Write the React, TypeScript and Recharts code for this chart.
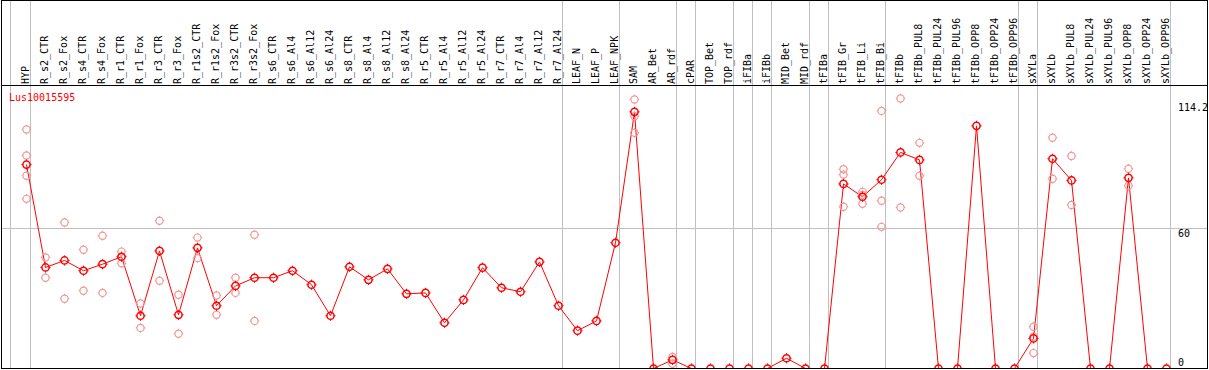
import React from 'react';
import { ComposedChart, Line, XAxis, YAxis, ReferenceLine } from 'recharts';

const categories = [
  'HYP', 'R_s2_CTR', 'R_s2_Fox', 'R_s4_CTR', 'R_s4_Fox', 'R_r1_CTR', 'R_r1_Fox', 'R_r3_CTR', 'R_r3_Fox',
  'R_r1s2_CTR', 'R_r1s2_Fox', 'R_r3s2_CTR', 'R_r3s2_Fox', 'R_s6_CTR', 'R_s6_Al4', 'R_s6_Al12', 'R_s6_Al24',
  'R_s8_CTR', 'R_s8_Al4', 'R_s8_Al12', 'R_s8_Al24', 'R_r5_CTR', 'R_r5_Al4', 'R_r5_Al12', 'R_r5_Al24',
  'R_r7_CTR', 'R_r7_Al4', 'R_r7_Al12', 'R_r7_Al24', 'LEAF_N', 'LEAF_P', 'LEAF_NPK', 'SAM', 'AR_Bet', 'AR_rdf',
  'cPAR', 'TOP_Bet', 'TOP_rdf', 'iFIBa', 'iFIBb', 'MID_Bet', 'MID_rdf', 'tFIBa', 'tFIB_Gr', 'tFIB_Li', 'tFIB_Bi',
  'tFIBb', 'tFIBb_PUL8', 'tFIBb_PUL24', 'tFIBb_PUL96', 'tFIBb_OPP8', 'tFIBb_OPP24', 'tFIBb_OPP96', 'sXYLa',
  'sXYLb', 'sXYLb_PUL8', 'sXYLb_PUL24', 'sXYLb_PUL96', 'sXYLb_OPP8', 'sXYLb_OPP24', 'sXYLb_OPP96',
];

const means = [
  87.4, 43.3, 46.3, 41.9, 44.7, 47.9, 22.6, 50.4, 23.0,
  51.7, 26.9, 35.4, 38.9, 38.9, 41.9, 35.9, 22.6,
  43.6, 38.0, 42.7, 32.0, 32.4, 19.6, 29.4, 43.2,
  34.6, 32.9, 45.7, 26.9, 16.2, 20.4, 53.9, 110.0, 0, 3.7,
  0, 0, 0, 0, 0, 4.4, 0, 0, 79.1, 73.6, 80.9,
  92.6, 89.4, 0, 0, 104.0, 0, 0, 12.9,
  89.9, 80.6, 0, 0, 81.7, 0, 0,
];

const replicates: number[][] = [
  [102.4, 91.3, 82.6, 72.7], [47.6, 38.9], [62.6, 29.9], [50.9, 33.3], [56.9, 32.4], [50.1, 45.1], [27.9, 17.4], [63.3, 37.6], [31.6, 14.9],
  [56.1, 47.3], [31.3, 23.0], [38.9, 32.4], [57.3, 20.4], [], [], [], [],
  [], [], [], [], [], [], [], [],
  [], [], [], [], [], [], [], [115.3, 108.1, 101.0], [], [4.9, 2.0],
  [], [], [], [], [], [], [], [], [85.4, 83.1, 69.3], [75.7, 74.4, 70.6], [110.4, 71.9, 60.7],
  [115.7, 69.0], [96.7, 82.6], [], [], [], [], [], [17.9, 13.6, 6.6],
  [98.9, 81.3], [91.1, 70.1], [], [], [85.6, 78.3], [], [],
];

const yTicks = [0, 60, 114.2];
const gridValues = [60];
// index of the last category of each group (the frame also has a line before the first category)
const groupEnds = [0, 28, 31, 34, 35, 37, 38, 39, 41, 42, 45, 52, 53, 60];
const geneLabel = 'Lus10015595';

const SHIFT = 2;

const data = categories.map((name, i) => {
  const row: Record<string, any> = { pos: i + SHIFT, name, mean: means[i] };
  (replicates[i] || []).forEach((v, j) => {
    row['r' + j] = v;
  });
  return row;
});

const W = 1209;
const H = 370;
const PX_PER_CAT = 19;
const FIRST_X = 26.5;
const PLOT_LEFT = 1;
const PLOT_RIGHT = 1207;
const PLOT_BOTTOM = 368.5;
const PX_PER_UNIT = 140 / 60;
const X_MIN = SHIFT + (PLOT_LEFT - FIRST_X) / PX_PER_CAT;
const X_MAX = X_MIN + (PLOT_RIGHT - PLOT_LEFT) / PX_PER_CAT;
const Y_MAX = PLOT_BOTTOM / PX_PER_UNIT;
const SEP_PX = 4;
const SEP_OFFSET = SEP_PX / PX_PER_CAT;
const LEAD_SEP_X = 10.5;

const FONT = "'DejaVu Sans Mono', monospace";
const RED = '#ff0000';
const PINK = '#f09898';
const GRAY = '#c0c0c0';

const headerLabel = (label: string) => (props: any) => {
  const vb = props.viewBox || {};
  const x = vb.x ?? 0;
  const ax = x + 2;
  const ay = 84;
  return (
    <text
      x={ax}
      y={ay}
      transform={`rotate(-90, ${ax}, ${ay})`}
      fontFamily={FONT}
      fontSize={10}
      fill="#000"
      textAnchor="start"
    >
      {label}
    </text>
  );
};

const valueLabel = (v: number) => (props: any) => {
  const vb = props.viewBox || {};
  const y = vb.y ?? 0;
  return (
    <text x={1178} y={v === 0 ? y - 2.5 : y + 8.5} fontFamily={FONT} fontSize={10} fill="#000" textAnchor="start">
      {String(v)}
    </text>
  );
};

const MeanDot = (props: any) => {
  const { cx, cy, index, value } = props;
  if (cx == null || cy == null || value == null || Number.isNaN(cy)) return <g key={`m-${index}`} />;
  const r = 3.6;
  return (
    <g key={`m-${index}`}>
      <circle cx={cx} cy={cy} r={r} fill="none" stroke={RED} strokeWidth={1.5} />
      <line x1={cx} y1={cy - r - 1.5} x2={cx} y2={cy - r} stroke={RED} strokeWidth={1} />
      <line x1={cx} y1={cy + r} x2={cx} y2={cy + r + 1.5} stroke={RED} strokeWidth={1} />
      <line x1={cx - r - 1.5} y1={cy} x2={cx - r} y2={cy} stroke={RED} strokeWidth={1} />
      <line x1={cx + r} y1={cy} x2={cx + r + 1.5} y2={cy} stroke={RED} strokeWidth={1} />
    </g>
  );
};

const makeRepDot = (key: string) => (props: any) => {
  const { cx, cy, index, payload } = props;
  if (cx == null || cy == null || payload == null || payload[key] == null || Number.isNaN(cy)) {
    return <g key={`${key}-${index}`} />;
  }
  const r = 3.6;
  return (
    <g key={`${key}-${index}`}>
      <circle cx={cx} cy={cy} r={r} fill="none" stroke={PINK} strokeWidth={1.2} />
      <line x1={cx} y1={cy - r - 1.2} x2={cx} y2={cy - r} stroke={PINK} strokeWidth={1} />
      <line x1={cx} y1={cy + r} x2={cx} y2={cy + r + 1.2} stroke={PINK} strokeWidth={1} />
      <line x1={cx - r - 1.2} y1={cy} x2={cx - r} y2={cy} stroke={PINK} strokeWidth={1} />
      <line x1={cx + r} y1={cy} x2={cx + r + 1.2} y2={cy} stroke={PINK} strokeWidth={1} />
    </g>
  );
};

const repKeys = ['r0', 'r1', 'r2', 'r3'];

export default function App() {
  return (
    <div style={{ position: 'absolute', left: 0, top: 0, width: W, height: H, background: '#fff', overflow: 'hidden' }}>
      <ComposedChart
        width={W}
        height={H}
        data={data}
        margin={{ top: 0, right: W - PLOT_RIGHT, bottom: H - PLOT_BOTTOM, left: PLOT_LEFT }}
      >
        <XAxis dataKey="pos" type="number" domain={[X_MIN, X_MAX]} allowDataOverflow hide />
        <YAxis type="number" domain={[0, Y_MAX]} allowDataOverflow hide />
        {gridValues.map((v) => (
          <ReferenceLine key={`h-${v}`} y={v} stroke={GRAY} strokeWidth={1} ifOverflow="visible" />
        ))}
        {groupEnds.map((g) => (
          <ReferenceLine
            key={`sep-${g}`}
            x={g + SHIFT + SEP_OFFSET}
            stroke={GRAY}
            strokeWidth={1}
            ifOverflow="visible"
          />
        ))}
        {categories.map((c, i) => (
          <ReferenceLine key={`c-${i}`} x={i + SHIFT} stroke="none" ifOverflow="visible" label={headerLabel(c)} />
        ))}
        {yTicks.map((v) => (
          <ReferenceLine key={`t-${v}`} y={v} stroke="none" ifOverflow="visible" label={valueLabel(v)} />
        ))}
        {repKeys.map((k) => (
          <Line
            key={k}
            dataKey={k}
            stroke="none"
            isAnimationActive={false}
            dot={makeRepDot(k)}
            activeDot={false}
            connectNulls={false}
            legendType="none"
          />
        ))}
        <Line
          dataKey="mean"
          type="linear"
          stroke={RED}
          strokeWidth={1}
          isAnimationActive={false}
          dot={MeanDot}
          activeDot={false}
        />
      </ComposedChart>
      <svg width={W} height={H} style={{ position: 'absolute', left: 0, top: 0, pointerEvents: 'none' }}>
        <line x1={LEAD_SEP_X} y1={0} x2={LEAD_SEP_X} y2={PLOT_BOTTOM} stroke={GRAY} strokeWidth={1} />
        <rect x={1.5} y={0.5} width={1206} height={368} fill="none" stroke="#000" strokeWidth={1} />
        <line x1={1} y1={85.5} x2={1208} y2={85.5} stroke="#000" strokeWidth={1} />
        <text x={9} y={101} fontFamily={FONT} fontSize={10} fill={RED}>
          {geneLabel}
        </text>
      </svg>
    </div>
  );
}
